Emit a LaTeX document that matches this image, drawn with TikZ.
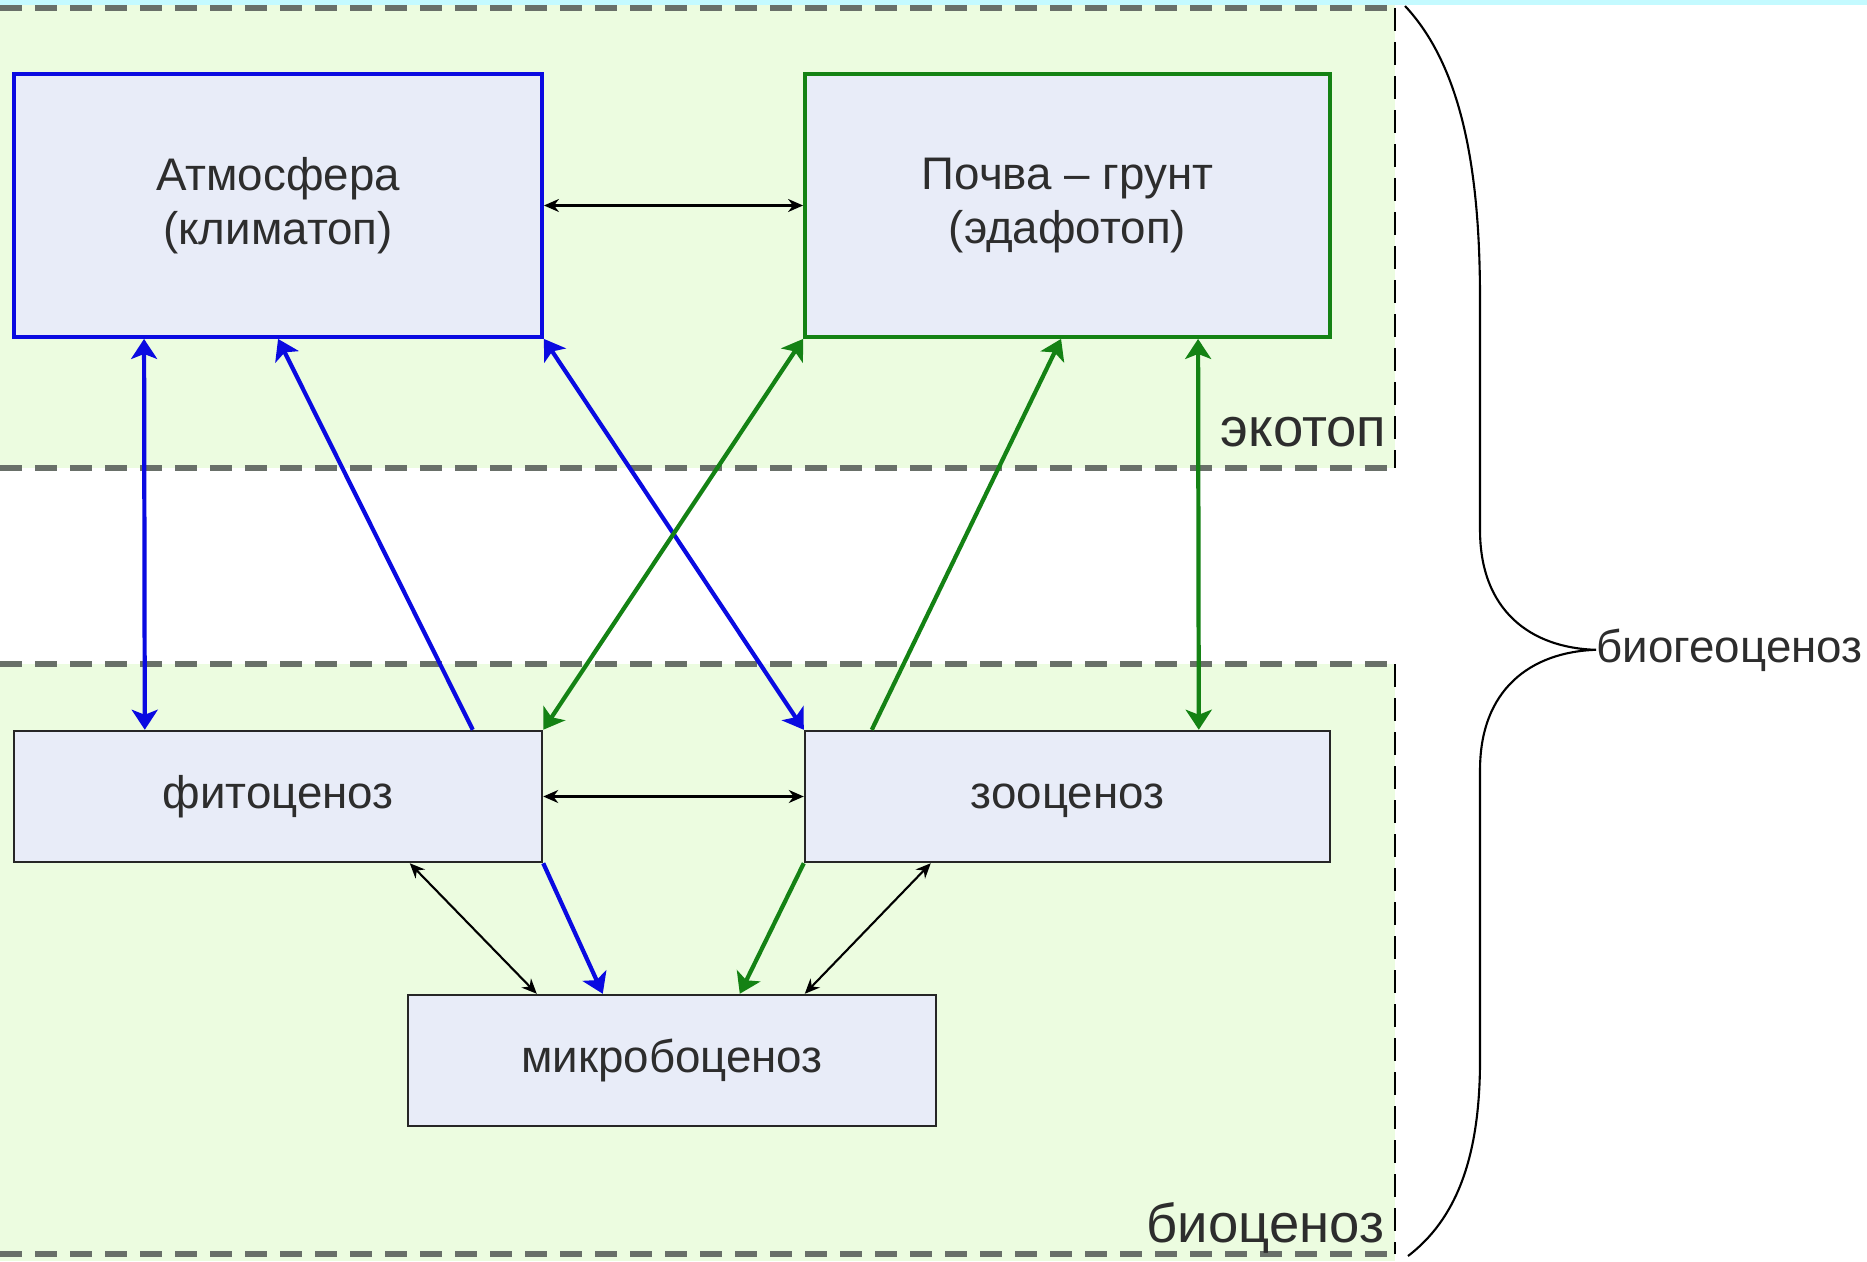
\documentclass[tikz,border=0pt]{standalone}
\usepackage{fontspec}
\setmainfont{Liberation Sans}
\usepackage{tikz}
\usetikzlibrary{positioning,calc}
\usetikzlibrary{arrows.meta}
\definecolor{EcoBlue}{RGB}{10,10,225}
\definecolor{EcoGreen}{RGB}{20,130,20}
\definecolor{ZoneGreen}{RGB}{236,252,224}
\definecolor{BoxFill}{RGB}{232,236,248}
\definecolor{DashGray}{RGB}{105,112,105}
\definecolor{TopCyan}{RGB}{196,250,255}
\definecolor{InkGray}{RGB}{45,45,45}
\tikzset{
  box/.style={draw=black!85,fill=BoxFill,line width=0.7pt,inner sep=0pt,text=InkGray,
    font=\fontsize{13}{15.5}\selectfont,align=center},
  bigbox/.style={box,minimum width=52.8mm,minimum height=26.3mm,line width=1.1pt},
  smallbox/.style={box,minimum width=52.8mm,minimum height=13.1mm,text height=0.9em,text depth=0.2em},
  blueln/.style={draw=EcoBlue,fill=EcoBlue,line width=1.2pt},
  greenln/.style={draw=EcoGreen,fill=EcoGreen,line width=1.2pt},
  thinln/.style={draw=black,line width=0.6pt},
  zone/.style={fill=ZoneGreen},
  zoneline/.style={draw=DashGray,line width=1.6pt,dash pattern=on 2.2mm off 1.3mm},
  edgeline/.style={draw=black,line width=0.6pt,dash pattern=on 2.3mm off 1.1mm},
  lbl/.style={text=InkGray,inner sep=0pt,font=\fontsize{15.5}{18}\selectfont},
}
\tikzset{headend/.style={-{Stealth[length=2mm,width=2.6mm,inset=0.5mm]}},
  headboth/.style={{Stealth[length=2mm,width=2.6mm,inset=0.5mm]}-{Stealth[length=2mm,width=2.6mm,inset=0.5mm]}},
  smallboth/.style={{Stealth[length=1.5mm,width=1.3mm]}-{Stealth[length=1.5mm,width=1.3mm]}}}

\begin{document}
\begin{tikzpicture}[x=0.1mm,y=-0.1mm]
\useasboundingbox (0,0) rectangle (1867,1261);
\fill[white] (0,0) rectangle (1867,1261);
\fill[TopCyan] (0,0) rectangle (1867,5);
\fill[zone] (0,5) rectangle (1395,468);
\fill[zone] (0,664) rectangle (1395,1261);
\draw[zoneline] (0,8) -- (1395,8);
\draw[zoneline] (0,468) -- (1395,468);
\draw[zoneline] (0,664) -- (1395,664);
\draw[zoneline] (0,1254) -- (1395,1254);
\draw[edgeline] (1395,8) -- (1395,468);
\draw[edgeline] (1395,664) -- (1395,1254);
\node[bigbox,draw=EcoBlue] (atm) at (278,205.5) {Атмосфера\\(климатоп)};
\node[bigbox,draw=EcoGreen,minimum width=52.5mm] (soil) at (1067.5,205.5) {Почва – грунт\\(эдафотоп)};
\node[smallbox] (phyto) at (278,796.5) {фитоценоз};
\node[smallbox,minimum width=52.5mm] (zoo) at (1067.5,796.5) {зооценоз};
\node[smallbox] (micro) at (672,1060.5) {микробоценоз};
\node[lbl,anchor=base east] (eco) at (1387,447) {экотоп};
\node[lbl,anchor=base east] (bio) at (1385,1242) {биоценоз};
\node[lbl,font=\fontsize{13}{15}\selectfont,anchor=base west] (geo) at (1596,662) {биогеоценоз};
\coordinate (btop) at (1405,6);
\coordinate (bbot) at (1408,1256);
\coordinate (bpt) at (geo.west);
\draw[thinln] (btop) .. controls (1465,70) and (1480,180) .. (1480,300) -- (1480,530)
  .. controls (1480,610) and (1530,648) .. (bpt) .. controls (1530,652) and (1480,690) .. (1480,770)
  -- (1480,1060) .. controls (1480,1160) and (1455,1220) .. (bbot);
\draw[blueln,headboth] ([xshift=13.2mm]atm.south west) -- ([xshift=13.2mm]phyto.north west);
\draw[blueln,headend] ([xshift=46mm]phyto.north west) -- ([xshift=26.6mm]atm.south west);
\draw[blueln,headboth] (atm.south east) -- (zoo.north west);
\draw[blueln,headend] (phyto.south east) -- ([xshift=19.6mm]micro.north west);
\draw[greenln,headboth] (soil.south west) -- (phyto.north east);
\draw[greenln,headend] ([xshift=6.8mm]zoo.north west) -- ([xshift=25.8mm]soil.south west);
\draw[greenln,headboth] ([xshift=39.5mm]soil.south west) -- ([xshift=39.5mm]zoo.north west);
\draw[greenln,headend] (zoo.south west) -- ([xshift=33.3mm]micro.north west);
\draw[thinln,smallboth] (atm.east) -- (soil.west);
\draw[thinln,smallboth] (phyto.east) -- (zoo.west);
\draw[thinln,smallboth] ([xshift=39.7mm]phyto.south west) -- ([xshift=13mm]micro.north west);
\draw[thinln,smallboth] ([xshift=12.7mm]zoo.south west) -- ([xshift=39.8mm]micro.north west);
\end{tikzpicture}
\end{document}
